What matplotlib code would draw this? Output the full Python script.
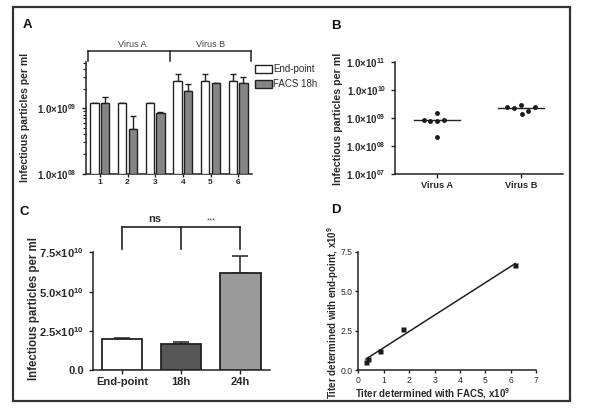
import numpy as np
import matplotlib
matplotlib.use("Agg")
import matplotlib.pyplot as plt
from matplotlib.patches import Rectangle, Patch
from matplotlib.ticker import FixedLocator, LogLocator, NullFormatter

plt.rcParams['font.family'] = ['Liberation Sans', 'DejaVu Sans']
plt.rcParams['mathtext.fontset'] = 'custom'
plt.rcParams['mathtext.rm'] = 'Liberation Sans:bold'
plt.rcParams['mathtext.default'] = 'rm'

TXT = '#2a2a2a'
plt.rcParams['text.color'] = TXT
plt.rcParams['axes.labelcolor'] = TXT
plt.rcParams['xtick.color'] = '#222222'
plt.rcParams['ytick.color'] = '#222222'
plt.rcParams['xtick.labelcolor'] = TXT
plt.rcParams['ytick.labelcolor'] = TXT

# ---------------- data ----------------
# Panel A
a_samples = ['1', '2', '3', '4', '5', '6']
a_endpoint = [1.21e9, 1.21e9, 1.21e9, 2.6e9, 2.6e9, 2.6e9]
a_endpoint_err = [0.0, 0.0, 0.0, 0.77e9, 0.77e9, 0.77e9]
a_facs = [1.21e9, 0.49e9, 0.85e9, 1.87e9, 2.42e9, 2.42e9]
a_facs_err = [0.26e9, 0.28e9, 0.02e9, 0.49e9, 0.0, 0.56e9]
a_groups = ['Virus A', 'Virus B']
a_legend = ['End-point', 'FACS 18h']

# Panel B
b_categories = ['Virus A', 'Virus B']
b_virus_a = [0.87e9, 0.78e9, 1.47e9, 0.78e9, 0.87e9, 0.215e9]
b_virus_b = [2.4e9, 2.28e9, 2.91e9, 1.39e9, 1.83e9, 2.4e9]
b_yticks = [1e7, 1e8, 1e9, 1e10, 1e11]
b_yticklabels = ['1.0×10$^{07}$', '1.0×10$^{08}$', '1.0×10$^{09}$', '1.0×10$^{10}$', '1.0×10$^{11}$']

# Panel C
c_categories = ['End-point', '18h', '24h']
c_values = [1.97e10, 1.66e10, 6.16e10]
c_err = [0.05e10, 0.16e10, 1.12e10]
c_yticks = [0, 2.5e10, 5.0e10, 7.5e10]
c_yticklabels = ['0.0', '2.5×10$^{10}$', '5.0×10$^{10}$', '7.5×10$^{10}$']
c_sig = ['ns', '***']

# Panel D (x10^9)
d_facs = [0.30, 0.39, 0.85, 1.77, 6.17]
d_endpoint = [0.54, 0.72, 1.24, 2.60, 6.66]

# ---------------- figure ----------------
W, H = 600, 418
fig = plt.figure(figsize=(6.0, 4.18), dpi=100)

def ax_px(l, r, t, b):
    return fig.add_axes([l / W, 1 - b / H, (r - l) / W, (b - t) / H])

def style(ax, lw=1.1):
    for s in ['top', 'right']:
        ax.spines[s].set_visible(False)
    for s in ['left', 'bottom']:
        ax.spines[s].set_linewidth(lw)
        ax.spines[s].set_color('#222222')
    ax.tick_params(direction='out', width=1.0, length=3)

# frame
fig.patches.append(Rectangle((13 / W, 1 - 400.5 / H), (570 - 13) / W, (400.5 - 7) / H,
                             transform=fig.transFigure, fill=False, lw=1.6, ec='#333333'))

# ---------- Panel A ----------
axA = ax_px(86, 252, 62, 173.7)
style(axA)
axA.set_yscale('log')
axA.set_ylim(1e8, 5.1e9)
axA.set_xlim(-0.5, 5.5)
x = np.arange(len(a_samples))
bw, off = 0.3, 0.19
bot = 1e8
axA.bar(x - off, np.array(a_endpoint) - bot, bottom=bot, width=bw, color='white',
        edgecolor='#222222', lw=1.0, zorder=3)
axA.bar(x + off, np.array(a_facs) - bot, bottom=bot, width=bw, color='#858585',
        edgecolor='#222222', lw=1.0, zorder=3)
axA.errorbar(x - off, a_endpoint, yerr=[np.zeros(6), a_endpoint_err], fmt='none',
             ecolor='#222222', elinewidth=1.0, capsize=2.2, capthick=1.0, zorder=2)
axA.errorbar(x + off, a_facs, yerr=[np.zeros(6), a_facs_err], fmt='none',
             ecolor='#222222', elinewidth=1.0, capsize=2.2, capthick=1.0, zorder=2)
axA.set_xticks(x)
axA.set_xticklabels(a_samples, fontsize=6, fontweight='bold')
axA.tick_params(axis='x', length=2.5, pad=1.5)
axA.yaxis.set_major_locator(FixedLocator([1e8, 1e9]))
axA.set_yticklabels(['1.0×10$^{08}$', '1.0×10$^{09}$'], fontsize=7, fontweight='bold')
axA.yaxis.set_minor_locator(LogLocator(base=10, subs=np.arange(2, 10)))
axA.yaxis.set_minor_formatter(NullFormatter())
axA.tick_params(axis='y', which='minor', length=2, width=0.8)
axA.set_ylabel('Infectious particles per ml', fontsize=7.5, fontweight='bold')
axA.yaxis.set_label_coords(-0.335, 0.503)
# bracket
yb_top, yb_bot = 7.4e9, 5.2e9
kw = dict(color='#222222', lw=1.1, clip_on=False)
axA.plot([-0.42, 5.45], [yb_top, yb_top], **kw)
for xx in [-0.42, 2.55, 5.45]:
    axA.plot([xx, xx], [yb_bot, yb_top], **kw)
axA.text(1.17, 9.3e9, a_groups[0], ha='center', va='center', fontsize=6.5, color='#444444')
axA.text(4.02, 9.3e9, a_groups[1], ha='center', va='center', fontsize=6.5, color='#444444')
handles = [Patch(facecolor='white', edgecolor='#222222', lw=1.0),
           Patch(facecolor='#858585', edgecolor='#222222', lw=1.0)]
fig.legend(handles, a_legend, loc='upper left', bbox_to_anchor=(255 / W, 1 - 64 / H),
           frameon=False, fontsize=7, handlelength=1.75, handleheight=0.9,
           handletextpad=0.15, labelspacing=0.55, borderpad=0, borderaxespad=0)

# ---------- Panel B ----------
axB = ax_px(395, 563, 62, 174)
style(axB)
axB.set_yscale('log')
axB.set_ylim(1e7, 1e11)
axB.set_xlim(-0.5, 1.5)
jit_a = [-0.155, -0.08, 0.0, 0.0, 0.08, 0.0]
jit_b = [-0.163, -0.079, 0.0, 0.008, 0.083, 0.167]
for i, (vals, jit) in enumerate([(b_virus_a, jit_a), (b_virus_b, jit_b)]):
    axB.plot(i + np.array(jit), vals, 'o', color='#1a1a1a', ms=3.5, mec='none', zorder=3)
    med = np.median(vals)
    axB.plot([i - 0.275, i + 0.275], [med, med], color='#222222', lw=1.0, zorder=2)
axB.yaxis.set_major_locator(FixedLocator(b_yticks))
axB.yaxis.set_minor_locator(FixedLocator([]))
axB.set_yticklabels(b_yticklabels, fontsize=7, fontweight='bold')
axB.set_xticks([0, 1])
axB.set_xticklabels(b_categories, fontsize=6.7, fontweight='bold')
axB.tick_params(axis='x', length=3, pad=2)
axB.set_ylabel('Infectious particles per ml', fontsize=7.7, fontweight='bold')
axB.yaxis.set_label_coords(-0.312, 0.49)

# ---------- Panel C ----------
axC = ax_px(92.7, 270, 252.3, 370.2)
style(axC)
axC.set_ylim(0, 7.5e10)
axC.set_xlim(-0.5, 2.5)
xc = np.arange(len(c_categories))
axC.bar(xc, c_values, width=0.68, color=['white', '#575757', '#9a9a9a'],
        edgecolor='#222222', lw=1.3, zorder=3)
axC.errorbar(xc, c_values, yerr=[np.zeros(3), c_err], fmt='none', ecolor='#222222',
             elinewidth=1.1, capsize=5.5, capthick=1.1, zorder=2)
axC.set_yticks(c_yticks)
axC.set_yticklabels(c_yticklabels, fontsize=8, fontweight='bold')
axC.set_xticks(xc)
axC.set_xticklabels(c_categories, fontsize=8, fontweight='bold')
axC.tick_params(axis='x', length=3, pad=2)
axC.set_ylabel('Infectious particles per ml', fontsize=8.3, fontweight='bold')
axC.yaxis.set_label_coords(-0.300, 0.52)
yt, yb = 9.09e10, 7.71e10
kw = dict(color='#222222', lw=1.2, clip_on=False)
axC.plot([xc[0], xc[-1]], [yt, yt], **kw)
for xx in xc:
    axC.plot([xx, xx], [yb, yt], **kw)
axC.text(0.55, 9.65e10, c_sig[0], ha='center', va='center', fontsize=8, fontweight='bold')
axC.text(1.5, 9.5e10, c_sig[1], ha='center', va='center', fontsize=5.5, color='#555555')

# ---------- Panel D ----------
axD = ax_px(358.3, 536.3, 251.7, 370.3)
style(axD)
axD.set_xlim(0, 7)
axD.set_ylim(0, 7.5)
axD.plot(d_facs, d_endpoint, 's', color='#1a1a1a', ms=3.6, mec='none', zorder=3, clip_on=False)
slope, icpt = np.polyfit(d_facs, d_endpoint, 1)
xl = np.array([min(d_facs), max(d_facs)])
axD.plot(xl, slope * xl + icpt, color='#222222', lw=1.1, zorder=2)
axD.set_xticks(range(0, 8))
axD.set_xticklabels([str(i) for i in range(0, 8)], fontsize=6.2)
axD.set_yticks([0, 2.5, 5.0, 7.5])
axD.set_yticklabels(['0.0', '2.5', '5.0', '7.5'], fontsize=6.2)
axD.tick_params(length=2.5, pad=1.5)
axD.set_xlabel('Titer determined with FACS, x10$^{9}$', fontsize=7, fontweight='bold')
axD.xaxis.set_label_coords(0.42, -0.13)
axD.set_ylabel('Titer determined with end-point, x10$^{9}$', fontsize=7, fontweight='bold')
axD.yaxis.set_label_coords(-0.100, 0.487)

# panel letters
for lab, (px, py) in zip('ABCD', [(27, 25), (336, 26), (24, 212), (336, 210)]):
    fig.text(px / W, 1 - py / H, lab, ha='center', va='center', fontsize=9.5,
             fontweight='bold', color='#111111')

fig.savefig('out.png', dpi=100, facecolor='white')
